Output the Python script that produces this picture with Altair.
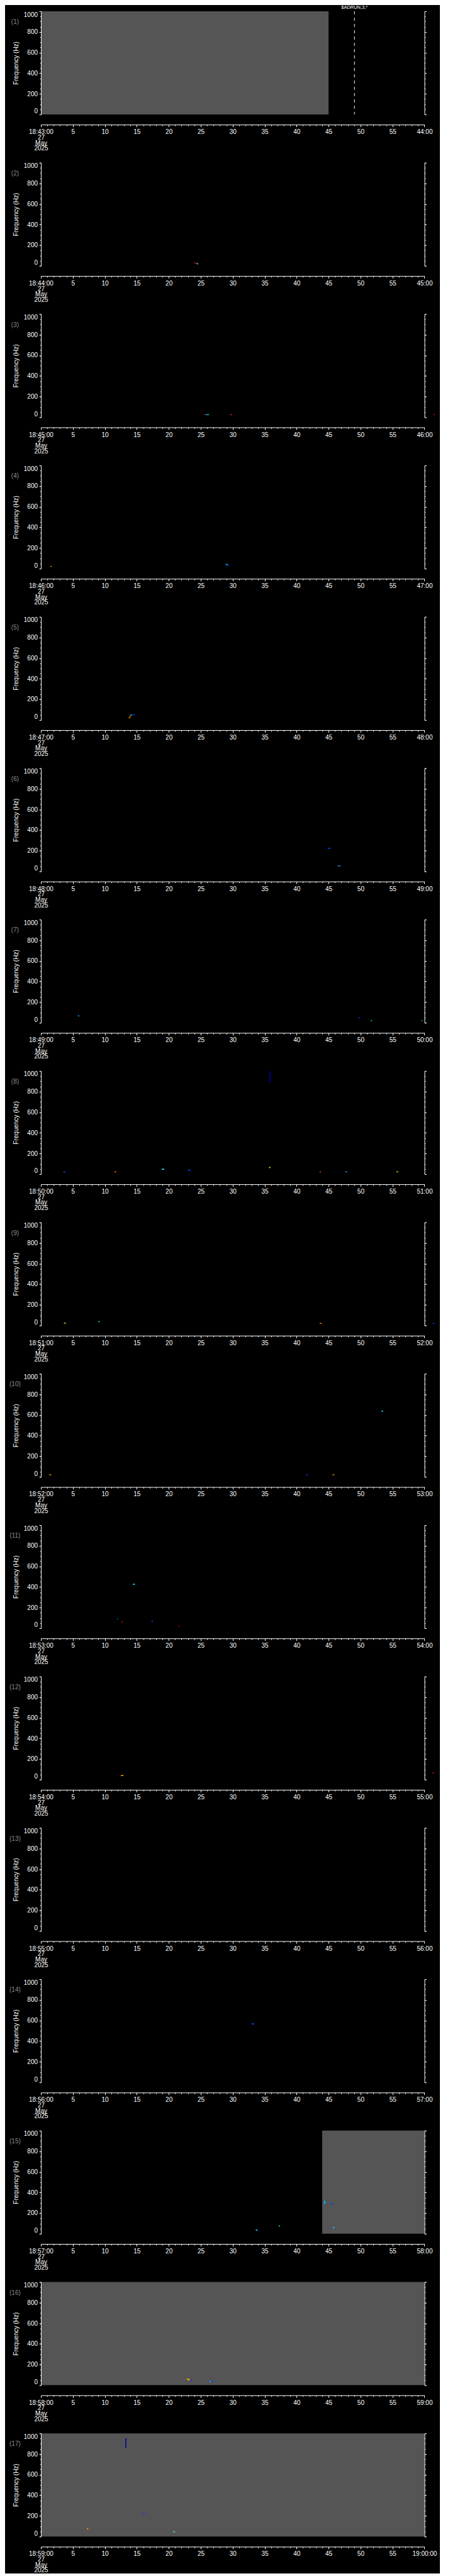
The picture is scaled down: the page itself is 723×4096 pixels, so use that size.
import altair as alt
import pandas as pd

FONT = "Liberation Sans"

# ---------------- data ----------------
start_minutes = list(range(43, 60))          # panel k starts at 18:MM:00
date_lines = ["27", "May", "2025"]
x_domain = [0, 60]
y_domain = [0, 1000]
x_major = list(range(0, 61, 5))
x_minor = list(range(0, 61, 1))
y_major = list(range(0, 1001, 200))
y_minor = list(range(0, 1001, 50))

# gray "data present" regions (panel, start s, end s)
gray_panel = [1, 15, 16, 17]
gray_t0 = [0.0, 44.0, 0.0, 0.0]
gray_t1 = [45.0, 60.0, 60.0, 60.0]

# small coloured spectrogram specks
sp_panel = [2, 2,
            3, 3, 3, 3,
            4, 4, 4,
            5, 5, 5, 5,
            6, 6,
            7, 7, 7, 7,
            8, 8, 8, 8, 8, 8, 8, 8, 8,
            9, 9, 9, 9,
            10, 10, 10, 10,
            11, 11, 11, 11, 11,
            12, 12,
            14,
            15, 15, 15, 15, 15,
            16, 16, 16, 16, 16,
            17, 17, 17, 17, 17, 17, 17]
sp_t0 = [24.0, 24.4,
         25.6, 25.8, 29.6, 61.4,
         1.5, 28.9, 29.1,
         13.7, 13.9, 14.0, 14.3,
         44.9, 46.4,
         5.8, 49.7, 51.6, 59.5,
         35.75, 3.5, 11.5, 18.9, 23.0, 35.7, 43.6, 47.6, 55.6,
         3.6, 9.0, 43.6, 61.3,
         1.3, 41.5, 45.6, 53.3,
         11.9, 12.6, 14.4, 17.3, 21.5,
         12.5, 61.3,
         33.0,
         33.6, 37.2, 44.3, 45.2, 45.7,
         22.8, 23.0, 23.3, 26.4, 26.6,
         13.2, 13.2, 15.9, 7.2, 7.3, 20.7, 20.8]
sp_t1 = [24.4, 24.6,
         25.8, 26.3, 29.9, 61.6,
         1.7, 29.2, 29.4,
         13.9, 14.0, 14.3, 14.7,
         45.3, 46.9,
         6.0, 49.9, 51.8, 59.7,
         35.9, 3.8, 11.8, 19.3, 23.4, 35.9, 43.8, 47.9, 55.9,
         3.9, 9.2, 43.9, 61.6,
         1.6, 41.8, 45.9, 53.5,
         12.1, 12.8, 14.7, 17.5, 21.7,
         12.9, 61.5,
         33.3,
         33.9, 37.4, 44.5, 45.7, 45.9,
         23.1, 23.3, 23.6, 26.6, 27.0,
         13.35, 13.45, 16.3, 7.4, 7.5, 20.9, 21.0]
sp_f0 = [22, 14,
         20, 20, 20, 20,
         17, 35, 28,
         16, 20, 44, 45,
         218, 48,
         60, 44, 16, 16,
         886, 18, 18, 42, 32, 58, 18, 18, 18,
         18, 32, 16, 16,
         16, 16, 16, 630,
         84, 58, 420, 62, 16,
         35, 60,
         560,
         30, 70, 290, 286, 52,
         55, 48, 42, 32, 32,
         860, 944, 220, 70, 64, 44, 38]
sp_f1 = [30, 26,
         28, 28, 28, 28,
         25, 45, 38,
         24, 48, 52, 53,
         228, 56,
         72, 52, 24, 24,
         1000, 26, 26, 52, 42, 70, 26, 26, 26,
         26, 42, 24, 24,
         24, 24, 24, 644,
         92, 66, 432, 72, 22,
         43, 70,
         575,
         40, 80, 320, 294, 66,
         65, 58, 50, 40, 40,
         948, 950, 228, 78, 72, 52, 46]
sp_color = ["#ff1010", "#00e8ff",
            "#ff1010", "#00c8ff", "#ff1010", "#ff1010",
            "#ff9000", "#00d0ff", "#0040ff",
            "#ff9000", "#ff9000", "#00d0ff", "#0030ff",
            "#0040ff", "#0090ff",
            "#00a0ff", "#0040ff", "#00e8ff", "#00c0ff",
            "#0000a8", "#0060ff", "#ff7000", "#00f0e0", "#0040ff", "#ffe000", "#ff6000", "#40a0ff", "#ffd000",
            "#c0ff40", "#00e8ff", "#ff8000", "#0040ff",
            "#ffb000", "#0030ff", "#ff9000", "#00e0ff",
            "#0060ff", "#ff1010", "#00d0ff", "#0050ff", "#ff1010",
            "#ffa000", "#ff1010",
            "#0040ff",
            "#00e0ff", "#00e0ff", "#00b0ff", "#0040ff", "#00d0ff",
            "#ff9000", "#ffd000", "#0030ff", "#00e8ff", "#0040ff",
            "#0000a8", "#0000a8", "#0040ff", "#c0ff40", "#ff3010", "#ffd000", "#00e0ff"]

marker_panel = [1]
marker_t = [49.05]
marker_label = ["$ADRUN,3,*"]

# ---------------- frames ----------------
gray_df = pd.DataFrame({"panel": gray_panel, "t0": gray_t0, "t1": gray_t1,
                        "f0": [y_domain[0]] * len(gray_panel),
                        "f1": [y_domain[1]] * len(gray_panel)})
sp_df = pd.DataFrame({"panel": sp_panel, "t0": sp_t0, "t1": sp_t1,
                      "f0": sp_f0, "f1": sp_f1, "color": sp_color})
mk_df = pd.DataFrame({"panel": marker_panel, "t": marker_t, "label": marker_label,
                      "ftop": [y_domain[1]] * len(marker_panel)})
frame_df = pd.DataFrame({"t0": [x_domain[0]], "t1": [x_domain[1]],
                         "f0": [y_domain[0]], "f1": [y_domain[1]]})

S = 0.705
W = 864.5 * S
H = 232.5 * S
XOFF = 23 * S

xs = alt.Scale(domain=x_domain, nice=False, zero=False)
ys = alt.Scale(domain=y_domain, nice=False, zero=False)

common_axis = dict(grid=False, zindex=2, tickColor="white", domainColor="white",
                   labelColor="white", labelFont=FONT, labelFontSize=10,
                   tickWidth=1, domainWidth=1)


def panel(k):
    m = start_minutes[k - 1]
    first = f"18:{m:02d}:00"
    last = f"{m + 1:02d}:00" if m + 1 < 60 else "19:00:00"
    first_lines = ",".join("'" + s + "'" for s in [first] + date_lines)
    expr = (f"datum.value == 0 ? [{first_lines}] : "
            f"(datum.value == 60 ? '{last}' : datum.label)")

    ax_x_major = alt.Axis(orient="bottom", values=x_major, offset=XOFF, tickSize=3.5,
                          labelPadding=3, labelExpr=expr, labelFlush=False,
                          labelOverlap=False, labelLineHeight=8.7, labelAngle=0,
                          format="d", title=None, **common_axis)
    ax_x_minor = alt.Axis(orient="bottom", values=x_minor, offset=XOFF, tickSize=1.9,
                          labels=False, domain=False, title=None, **common_axis)
    ax_y_left = alt.Axis(orient="left", values=y_major, tickSize=3, labelPadding=2.5,
                         labelFlush=True, labelOverlap=False, format="d",
                         title="Frequency (Hz)", titleColor="white", titleFont=FONT,
                         titleFontSize=10, titleFontWeight="normal", titlePadding=7,
                         **common_axis)
    ax_y_left_minor = alt.Axis(orient="left", values=y_minor, tickSize=1.5,
                               labels=False, domain=False, title=f"({k})",
                               titleAngle=0, titleX=-41.6, titleY=16.6,
                               titleAlign="center", titleBaseline="middle",
                               titleColor="#8c8c8c", titleFont=FONT, titleFontSize=10,
                               titleFontWeight="normal", **common_axis)
    ax_y_right = alt.Axis(orient="right", values=y_major, tickSize=3, labels=False,
                          title=None, **common_axis)
    ax_y_right_minor = alt.Axis(orient="right", values=y_minor, tickSize=1.5,
                                labels=False, domain=False, title=None, **common_axis)

    layers = []
    g = gray_df[gray_df.panel == k]
    if len(g):
        layers.append(alt.Chart(g).mark_rect(color="#555555").encode(
            x=alt.X("t0:Q", scale=xs, axis=None), x2="t1:Q",
            y=alt.Y("f0:Q", scale=ys, axis=None), y2="f1:Q"))
    sp = sp_df[sp_df.panel == k]
    if len(sp):
        layers.append(alt.Chart(sp).mark_rect().encode(
            x=alt.X("t0:Q", scale=xs, axis=None), x2="t1:Q",
            y=alt.Y("f0:Q", scale=ys, axis=None), y2="f1:Q",
            color=alt.Color("color:N", scale=None)))
    mk = mk_df[mk_df.panel == k]
    if len(mk):
        layers.append(alt.Chart(mk).mark_rule(color="white", strokeDash=[5, 5],
                                              strokeWidth=1).encode(
            x=alt.X("t:Q", scale=xs, axis=None)))
        layers.append(alt.Chart(mk).mark_text(color="white", font=FONT, fontSize=7.5,
                                              align="center", baseline="middle",
                                              dy=-6).encode(
            x=alt.X("t:Q", scale=xs, axis=None),
            y=alt.Y("ftop:Q", scale=ys, axis=None),
            text="label:N"))
    base = alt.Chart(frame_df).mark_rect(opacity=0)
    layers.append(base.encode(x=alt.X("t0:Q", scale=xs, axis=ax_x_major), x2="t1:Q",
                              y=alt.Y("f0:Q", scale=ys, axis=ax_y_left), y2="f1:Q"))
    layers.append(base.encode(x=alt.X("t0:Q", scale=xs, axis=ax_x_minor), x2="t1:Q",
                              y=alt.Y("f0:Q", scale=ys, axis=ax_y_left_minor), y2="f1:Q"))
    layers.append(base.encode(x=alt.X("t0:Q", scale=xs, axis=None), x2="t1:Q",
                              y=alt.Y("f0:Q", scale=ys, axis=ax_y_right), y2="f1:Q"))
    layers.append(base.encode(x=alt.X("t0:Q", scale=xs, axis=None), x2="t1:Q",
                              y=alt.Y("f0:Q", scale=ys, axis=ax_y_right_minor), y2="f1:Q"))
    return alt.layer(*layers).resolve_axis(x="independent", y="independent").properties(
        width=W, height=H)


panels = [panel(k) for k in range(1, 18)]
chart = alt.vconcat(*panels, spacing=341.3 * S - H, bounds="flush").properties(
    background="black",
    padding={"left": 6, "top": 0, "right": 5, "bottom": 0},
).configure(font=FONT).configure_view(stroke=None)

chart.save("out.html", embed_options={"renderer": "svg", "actions": False})
